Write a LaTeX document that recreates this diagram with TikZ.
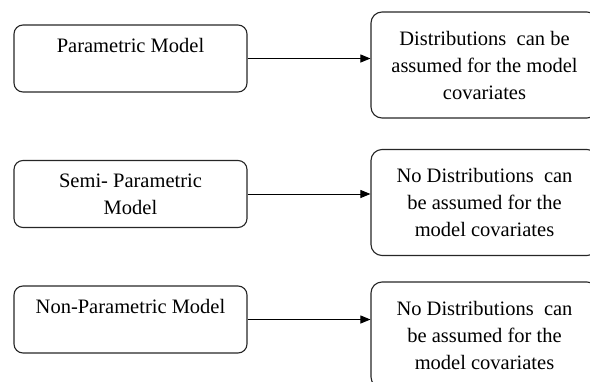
\documentclass[tikz,border=0pt]{standalone}
\usepackage{fontspec}
\setmainfont{Liberation Serif}
\usetikzlibrary{arrows.meta}
\begin{document}
\begin{tikzpicture}[x=1pt,y=-1pt]
	\useasboundingbox (0,0) rectangle (590,381);
	\begin{scope}[every node/.style={draw=black!85, line width=1.1pt, rounded corners=9pt, minimum width=233pt, minimum height=67pt, align=center, font=\fontsize{20.5}{27}\selectfont}]
		\node (pm) at (130.5,58.5) {Parametric Model\\ \mbox{}};
		\node (sm) at (130.5,194) {Semi- Parametric\\Model};
		\node (nm) at (130.5,319.5) {Non-Parametric Model\\ \mbox{}};
	\end{scope}
	\begin{scope}[every node/.style={draw=black!85, line width=1.1pt, rounded corners=11pt, minimum width=227pt, minimum height=106pt, align=center, font=\fontsize{20.5}{27}\selectfont}]
		\node (pd) at (484.5,65) {Distributions~ can be\\assumed for the model\\covariates};
		\node (sd) at (484.5,202.5) {No Distributions~ can\\be assumed for the\\model covariates};
		\node (nd) at (484.5,335) {No Distributions~ can\\be assumed for the\\model covariates};
	\end{scope}
	\begin{scope}[every edge/.style={draw=black, line width=0.9pt, ->, >={Triangle[length=10pt,width=8pt]}}]
		\path (pm.east) edge (pm.east -| pd.west);
		\path (sm.east) edge (sm.east -| sd.west);
		\path (nm.east) edge (nm.east -| nd.west);
	\end{scope}
\end{tikzpicture}
\end{document}
